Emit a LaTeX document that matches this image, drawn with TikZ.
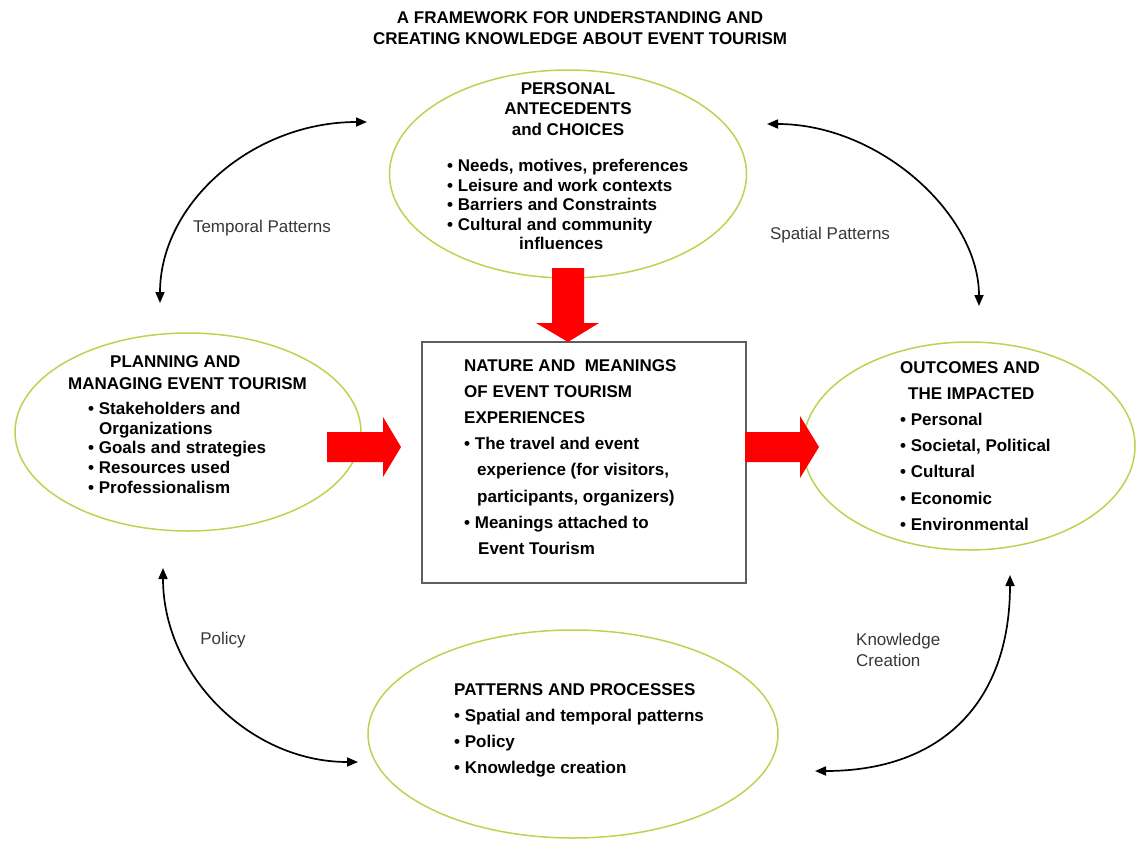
\documentclass[tikz,border=0pt]{standalone}
\usepackage{fontspec}
\setmainfont{Liberation Sans}
\usetikzlibrary{shapes.geometric,arrows.meta}
\definecolor{ellgreen}{RGB}{184,212,80}
\definecolor{boxgrey}{RGB}{95,95,95}
\definecolor{labgrey}{RGB}{55,55,55}
\definecolor{arrred}{RGB}{255,0,0}
\newcommand{\bl}{\textbullet\ }
\begin{document}
\begin{tikzpicture}[x=1pt,y=-1pt,
  ell/.style={ellipse, draw=ellgreen, line width=1.5pt, inner sep=0pt},
  txt/.style={font=\fontsize{17}{#1}\selectfont\bfseries, inner sep=0pt, text=black},
  lab/.style={font=\fontsize{17}{20}\selectfont, text=labgrey, inner sep=0pt, align=left},
  cyc/.style={line width=1.7pt, {Triangle[length=11pt,width=9pt]}-{Triangle[length=11pt,width=9pt]}},
  blk/.style={fill=arrred, draw=none}]
\useasboundingbox (0,0) rectangle (1136,841);

% title
\node[txt=21, align=center, anchor=north] (title) at (580,11)
  {A FRAMEWORK FOR UNDERSTANDING AND\\CREATING KNOWLEDGE ABOUT EVENT TOURISM};

% ellipses and box
\node[ell, minimum width=357pt, minimum height=208pt] (pers) at (568,174) {};
\node[ell, minimum width=346pt, minimum height=198pt] (plan) at (188,432) {};
\node[ell, minimum width=332pt, minimum height=208pt] (outc) at (969,446) {};
\node[ell, minimum width=410pt, minimum height=208pt] (patt) at (573,734) {};
\node[draw=boxgrey, line width=1.5pt, minimum width=324pt, minimum height=241pt, inner sep=0pt] (natr) at (584,462.5) {};

% texts
\node[txt=20.5, align=center, anchor=north] (persH) at (568,82)
  {PERSONAL\\ANTECEDENTS\\and CHOICES};
\node[txt=19.6, align=left, anchor=north west] (persB) at (447,159)
  {\bl Needs, motives, preferences\\\bl Leisure and work contexts\\\bl Barriers and Constraints\\\bl Cultural and community\\\hspace*{72pt}influences};

\node[txt=22, align=left, anchor=north west] (planH) at (68,355)
  {\hspace*{42pt}PLANNING AND\\MANAGING EVENT TOURISM};
\node[txt=19.7, align=left, anchor=north west] (planB) at (88,402)
  {\bl Stakeholders and\\\hspace*{11pt}Organizations\\\bl Goals and strategies\\\bl Resources used\\\bl Professionalism};

\node[txt=26.2, align=left, anchor=north west] (natrT) at (464,359)
  {NATURE AND\ \ MEANINGS\\OF EVENT TOURISM\\EXPERIENCES\\\bl The travel and event\\\hspace*{13pt}experience (for visitors,\\\hspace*{13pt}participants, organizers)\\\bl Meanings attached to\\\hspace*{14pt}Event Tourism};

\node[txt=26.2, align=left, anchor=north west] (outcT) at (900,361)
  {OUTCOMES AND\\\hspace*{8pt}THE IMPACTED\\\bl Personal\\\bl Societal, Political\\\bl Cultural\\\bl Economic\\\bl Environmental};

\node[txt=26.3, align=left, anchor=north west] (pattT) at (454,683)
  {PATTERNS AND PROCESSES\\\bl Spatial and temporal patterns\\\bl Policy\\\bl Knowledge creation};

% red block arrows
\fill[blk] (552,268) -- (584,268) -- (584,323) -- (599,323) -- (568,342) -- (536,323) -- (552,323) -- cycle;
\fill[blk] (327,432) -- (383,432) -- (383,417) -- (401,447) -- (383,477) -- (383,462) -- (327,462) -- cycle;
\fill[blk] (745,432) -- (800,432) -- (800,416) -- (819,447) -- (800,478) -- (800,462) -- (745,462) -- cycle;

% curved double arrows
\coordinate (tpA) at (367,122); \coordinate (tpB) at (160,303);
\draw[cyc] (tpA) .. controls (253,122) and (160,203) .. (tpB);
\coordinate (spA) at (767,124); \coordinate (spB) at (979,306);
\draw[cyc] (spA) .. controls (880,124) and (979,215) .. (spB);
\coordinate (poA) at (163,568); \coordinate (poB) at (358,762);
\draw[cyc] (poA) .. controls (163,675) and (250,762) .. (poB);
\coordinate (kcA) at (1010,575); \coordinate (kcB) at (815,771);
\draw[cyc] (kcA) .. controls (1010,702) and (942,771) .. (kcB);

% labels
\node[lab] (tempL) at (262,228) {Temporal Patterns};
\node[lab] (spatL) at (830,235) {Spatial Patterns};
\node[lab] (poliL) at (223,640) {Policy};
\node[lab, font=\fontsize{17}{20.5}\selectfont, anchor=west] (knowL) at (856,650) {Knowledge\\Creation};
\end{tikzpicture}
\end{document}
